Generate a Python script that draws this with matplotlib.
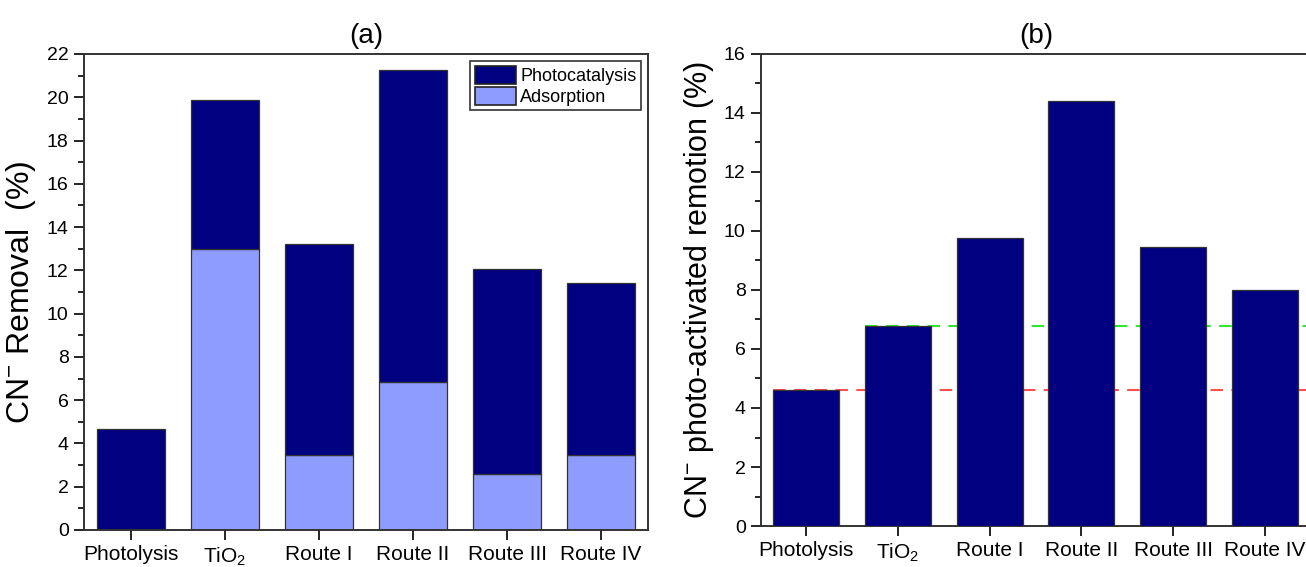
"""CN- removal chart: (a) stacked adsorption/photocatalysis, (b) photo-activated part."""

import matplotlib

matplotlib.use("Agg")
import matplotlib.pyplot as plt
from matplotlib.ticker import MultipleLocator

plt.rcParams["font.family"] = ["Liberation Sans", "DejaVu Sans"]
plt.rcParams["mathtext.fontset"] = "custom"
plt.rcParams["mathtext.rm"] = "Liberation Sans"
plt.rcParams["mathtext.it"] = "Liberation Sans"

CATEGORIES = ["Photolysis", "TiO$_2$", "Route I", "Route II", "Route III", "Route IV"]
ADSORPTION = [0.0, 13.0, 3.45, 6.85, 2.6, 3.45]
PHOTOCATALYSIS = [4.65, 6.85, 9.75, 14.4, 9.45, 7.95]
PHOTO_ACTIVATED = [4.6, 6.78, 9.75, 14.4, 9.45, 8.0]

NAVY = "#000080"
LIGHT = "#8f9cff"
EDGE = "#333333"
WIDTH = 0.72


def style_axes(ax):
    ax.tick_params(axis="both", which="both", direction="out", top=False, right=False)
    ax.tick_params(axis="both", which="major", length=7, width=1.2, pad=4)
    ax.tick_params(axis="x", which="major", labelsize=15)
    ax.tick_params(axis="y", which="major", labelsize=14)
    ax.tick_params(axis="y", which="minor", length=4, width=1.2)
    ax.tick_params(axis="x", which="minor", bottom=False)
    ax.yaxis.set_minor_locator(MultipleLocator(1))
    ax.yaxis.set_major_locator(MultipleLocator(2))
    for spine in ax.spines.values():
        spine.set_linewidth(1.4)
        spine.set_color("#333333")


fig = plt.figure(figsize=(13.06, 5.67), dpi=100)
ax_a = fig.add_axes([0.0643, 0.0653, 0.4319, 0.8395])
ax_b = fig.add_axes([0.5827, 0.0723, 0.4211, 0.8325])

x = list(range(len(CATEGORIES)))

# (a) stacked bars
ax_a.bar(x, ADSORPTION, WIDTH, color=LIGHT, edgecolor=EDGE, linewidth=0.9, label="Adsorption")
ax_a.bar(x, PHOTOCATALYSIS, WIDTH, bottom=ADSORPTION, color=NAVY, edgecolor=EDGE,
         linewidth=0.9, label="Photocatalysis")
ax_a.set_xlim(-0.5, 5.5)
ax_a.set_ylim(0, 22)
ax_a.set_xticks(x, CATEGORIES)
ax_a.set_ylabel("CN$^{-}$ Removal  (%)", fontsize=23, labelpad=6)
ax_a.set_title("(a)", fontsize=20, pad=8)
style_axes(ax_a)
handles, labels = ax_a.get_legend_handles_labels()
leg = ax_a.legend(handles[::-1], labels[::-1], loc="upper right", fontsize=13,
                  fancybox=False, framealpha=1, edgecolor="#333333",
                  handlelength=2.3, handleheight=1.15, handletextpad=0.2,
                  borderpad=0.25, labelspacing=0.1, borderaxespad=0.4)
leg.get_frame().set_linewidth(1.2)
for patch in leg.get_patches():
    patch.set_edgecolor("#222222")
    patch.set_linewidth(1.2)

# (b) photo-activated removal with reference lines (drawn behind the bars)
ax_b.bar(x, PHOTO_ACTIVATED, WIDTH, color=NAVY, edgecolor=EDGE, linewidth=0.9, zorder=3)
ax_b.set_xlim(-0.49, 5.5)
ax_b.set_ylim(0, 16)
ax_b.hlines(PHOTO_ACTIVATED[0], x[0] - WIDTH / 2, 5.5, colors="#ff5050",
            linestyles=(0, (6, 4)), linewidth=1.5, zorder=2)
ax_b.hlines(PHOTO_ACTIVATED[1], x[1] - WIDTH / 2, 5.5, colors="#33e633",
            linestyles=(0, (6, 4)), linewidth=1.5, zorder=2)
ax_b.set_xticks(x, CATEGORIES)
ax_b.set_ylabel("CN$^{-}$ photo-activated remotion (%)", fontsize=22, labelpad=6)
ax_b.set_title("(b)", fontsize=20, pad=8)
style_axes(ax_b)

fig.savefig("out.png", dpi=100)
